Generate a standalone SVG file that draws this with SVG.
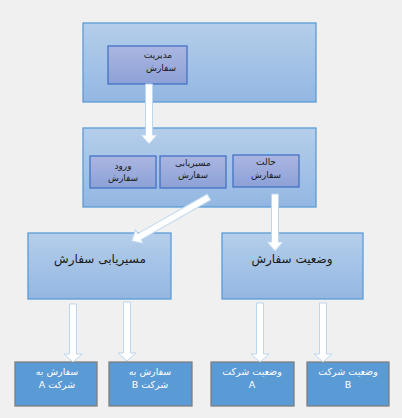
<svg xmlns="http://www.w3.org/2000/svg" width="402" height="418" viewBox="0 0 402 418">
<style>
.big{fill:url(#gBig);stroke:#5b9bd5;stroke-width:1.3}
.inner{fill:url(#gIn);stroke:#4472c4;stroke-width:1.3}
.leaf{fill:#5b9bd5;stroke:#7f7f7f;stroke-width:1.3}
.arr{fill:#ffffff;stroke:#bdd7ee;stroke-width:1;stroke-linejoin:miter}
text{font-family:"DejaVu Sans","Noto Sans",sans-serif;text-anchor:middle;direction:rtl;unicode-bidi:embed}
.t{font-size:9px;fill:#1a1a1a}
.tb{font-size:12px;fill:#1a1a1a}
.tw{font-size:9.5px;fill:#ffffff}
</style>
<defs>
<linearGradient id="gBig" x1="0" y1="0" x2="0" y2="1">
<stop offset="0" stop-color="#b5ceea"/>
<stop offset="1" stop-color="#93b7e2"/>
</linearGradient>
<linearGradient id="gIn" x1="0" y1="0" x2="0" y2="1">
<stop offset="0" stop-color="#abb6e1"/>
<stop offset="1" stop-color="#8ca1d7"/>
</linearGradient>
</defs>
<rect x="0" y="0" width="402" height="418" fill="#f0f0f0"/>

<g id="management">
<rect class="big" x="83" y="23" width="233" height="79"/>
<g id="order-management">
<rect class="inner" x="108" y="46" width="79" height="38"/>
<text class="t" x="158" y="58">مدیریت</text>
<text class="t" x="161" y="71">سفارش</text>
</g>
</g>

<g id="processing">
<rect class="big" x="83" y="128" width="233" height="79"/>
<g id="order-entry">
<rect class="inner" x="90" y="156" width="66" height="32"/>
<text class="t" x="123" y="169">ورود</text>
<text class="t" x="123" y="181">سفارش</text>
</g>
<g id="order-routing">
<rect class="inner" x="160" y="156" width="66" height="32"/>
<text class="t" x="193" y="166">مسیریابی</text>
<text class="t" x="193" y="178">سفارش</text>
</g>
<g id="order-state">
<rect class="inner" x="233" y="155" width="66" height="32"/>
<text class="t" x="266" y="165">حالت</text>
<text class="t" x="266" y="178">سفارش</text>
</g>
</g>

<g id="routing">
<rect class="big" x="28" y="233" width="143" height="66"/>
<text class="tb" x="100" y="263">مسیریابی سفارش</text>
</g>

<g id="status">
<rect class="big" x="222" y="233" width="141" height="66"/>
<text class="tb" x="292" y="263">وضعیت سفارش</text>
</g>

<g id="order-a">
<rect class="leaf" x="15" y="362" width="82" height="44"/>
<text class="tw" x="57" y="375">سفارش به</text>
<text class="tw" x="57" y="388">شرکت A</text>
</g>
<g id="order-b">
<rect class="leaf" x="109" y="362" width="83" height="44"/>
<text class="tw" x="150" y="375">سفارش به</text>
<text class="tw" x="150" y="388">شرکت B</text>
</g>
<g id="status-a">
<rect class="leaf" x="211" y="362" width="83" height="44"/>
<text class="tw" x="252" y="375">وضعیت شرکت</text>
<text class="tw" x="252" y="388">A</text>
</g>
<g id="status-b">
<rect class="leaf" x="307" y="362" width="82" height="44"/>
<text class="tw" x="348" y="375">وضعیت شرکت</text>
<text class="tw" x="348" y="388">B</text>
</g>

<g id="connectors">
<polygon class="arr" points="145.5,84 152.5,84 152.5,135 157,135 149,144 141,135 145.5,135"/>
<polygon class="arr" points="271.5,194 278.5,194 278.5,242 283,242 275,251 267,242 271.5,242"/>
<polygon class="arr" transform="translate(209,197) rotate(150.3)" points="0,-3.5 80,-3.5 80,-8 89,0 80,8 80,3.5 0,3.5"/>
<polygon class="arr" points="69.5,304 76.5,304 76.5,354 82,354 73,362 64,354 69.5,354"/>
<polygon class="arr" points="123.5,302 130.5,302 130.5,353 136,353 127,361 118,353 123.5,353"/>
<polygon class="arr" points="256.5,303 263.5,303 263.5,354 269,354 260,362 251,354 256.5,354"/>
<polygon class="arr" points="319.5,303 326.5,303 326.5,354 332,354 323,362 314,354 319.5,354"/>
</g>
</svg>
